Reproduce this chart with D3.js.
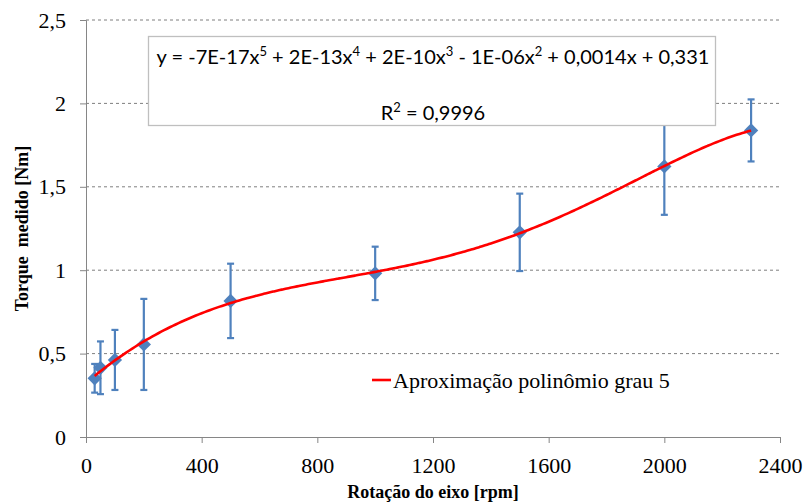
<!DOCTYPE html>
<html>
<head>
<meta charset="utf-8">
<script src="https://cdn.jsdelivr.net/npm/d3@7"></script>
<style>
  body { margin: 0; background: #fff; }
  svg { display: block; }
</style>
</head>
<body>
<svg id="chart" width="805" height="502"></svg>
<script>
// Measured torque vs. shaft speed, with standard-deviation error bars
const rotation = [30, 50, 100, 200, 500, 1000, 1500, 2000, 2300];
const torque   = [0.352, 0.415, 0.462, 0.555, 0.816, 0.981, 1.227, 1.622, 1.838];
const errorBar = [0.086, 0.158, 0.180, 0.273, 0.223, 0.160, 0.232, 0.290, 0.186];

const xTicks = [0, 400, 800, 1200, 1600, 2000, 2400];
const yTicks = [0, 0.5, 1, 1.5, 2, 2.5];

const equationText = ["y = -7E-17x", "5", " + 2E-13x", "4", " + 2E-10x", "3", " - 1E-06x", "2", " + 0,0014x + 0,331"];
const legendLabel = "Aproximação polinômio grau 5";

const SERIF = '"Liberation Serif", "Times New Roman", serif';
const SANS = 'Lato, "Open Sans", sans-serif';

const svg = d3.select("#chart");
const plotLeft = 86, plotRight = 780, plotTop = 20, plotBottom = 437;

const x = d3.scaleLinear().domain([0, 2400]).range([plotLeft, plotRight]);
const y = d3.scaleLinear().domain([0, 2.5]).range([plotBottom, plotTop]);
const fmt = v => String(v).replace(".", ",");

// Gridlines
svg.append("g")
  .selectAll("line")
  .data(yTicks.filter(d => d > 0))
  .join("line")
  .attr("x1", plotLeft).attr("x2", plotRight)
  .attr("y1", d => y(d)).attr("y2", d => y(d))
  .attr("stroke", "#7f7f7f").attr("stroke-width", 1)
  .attr("stroke-dasharray", "3,3");

// Axes
const xAxis = svg.append("g")
  .attr("transform", `translate(0,${plotBottom})`)
  .call(d3.axisBottom(x).tickValues(xTicks).tickSize(6).tickPadding(14).tickFormat(d => d));
const yAxis = svg.append("g")
  .attr("transform", `translate(${plotLeft},0)`)
  .call(d3.axisLeft(y).tickValues(yTicks).tickSize(6).tickPadding(14).tickFormat(fmt));
[xAxis, yAxis].forEach(a => {
  a.attr("font-family", null).attr("font-size", null);
  a.selectAll("path, line").attr("stroke", "#868686");
  a.selectAll("text")
    .style("font-family", SERIF)
    .style("font-size", "22px")
    .attr("fill", "#000");
});

// Degree-5 least-squares trendline fitted to the measurements
function polyFit(xs, ys, deg) {
  const s = 1000;
  const n = deg + 1;
  const A = Array.from({length: n}, () => new Array(n + 1).fill(0));
  xs.forEach((xv, k) => {
    const t = xv / s;
    for (let i = 0; i < n; i++) {
      for (let j = 0; j < n; j++) A[i][j] += Math.pow(t, i + j);
      A[i][n] += ys[k] * Math.pow(t, i);
    }
  });
  for (let c = 0; c < n; c++) {
    let p = c;
    for (let r = c + 1; r < n; r++) if (Math.abs(A[r][c]) > Math.abs(A[p][c])) p = r;
    [A[c], A[p]] = [A[p], A[c]];
    for (let r = 0; r < n; r++) {
      if (r === c) continue;
      const f = A[r][c] / A[c][c];
      for (let j = c; j <= n; j++) A[r][j] -= f * A[c][j];
    }
  }
  const coef = A.map((row, i) => row[n] / row[i]);
  return xv => coef.reduce((acc, c, i) => acc + c * Math.pow(xv / s, i), 0);
}
const trend = polyFit(rotation, torque, 5);
const xs = d3.range(rotation[0], rotation[rotation.length - 1] + 1, 10);

// Error bars
const bars = svg.append("g").attr("stroke", "#4f81bd").attr("stroke-width", 2.2);
rotation.forEach((r, i) => {
  const cx = x(r);
  const y1 = y(torque[i] + errorBar[i]), y2 = y(torque[i] - errorBar[i]);
  bars.append("line").attr("x1", cx).attr("x2", cx).attr("y1", y1).attr("y2", y2);
  bars.append("line").attr("x1", cx - 3.5).attr("x2", cx + 3.5).attr("y1", y1).attr("y2", y1);
  bars.append("line").attr("x1", cx - 3.5).attr("x2", cx + 3.5).attr("y1", y2).attr("y2", y2);
});

// Markers
svg.append("g")
  .selectAll("path")
  .data(rotation.map((r, i) => [r, torque[i]]))
  .join("path")
  .attr("d", d3.symbol(d3.symbolDiamond2, 130))
  .attr("transform", d => `translate(${x(d[0])},${y(d[1])})`)
  .attr("fill", "#4f81bd");

// Trendline
svg.append("path")
  .datum(xs)
  .attr("d", d3.line().x(d => x(d)).y(d => y(trend(d))).curve(d3.curveMonotoneX))
  .attr("fill", "none")
  .attr("stroke", "#ff0000")
  .attr("stroke-width", 2.6);

// Equation box
svg.append("rect")
  .attr("x", 148.5).attr("y", 36.5).attr("width", 567).attr("height", 89)
  .attr("fill", "#fff").attr("stroke", "#bfbfbf").attr("stroke-width", 1.3);
const eq = svg.append("text")
  .style("font-family", SANS)
  .attr("x", 433).attr("y", 64)
  .attr("text-anchor", "middle")
  .attr("font-size", 20).attr("fill", "#000");
equationText.forEach((t, i) => {
  const sp = eq.append("tspan").text(t);
  if (i % 2 === 1) sp.attr("font-size", 13).attr("dy", -8);
  else if (i > 0) sp.attr("dy", 8);
});
const r2 = svg.append("text")
  .style("font-family", SANS)
  .attr("x", 433).attr("y", 120)
  .attr("text-anchor", "middle")
  .attr("font-size", 20).attr("fill", "#000");
r2.append("tspan").text("R");
r2.append("tspan").text("2").attr("font-size", 13).attr("dy", -8);
r2.append("tspan").text(" = 0,9996").attr("dy", 8);

// Legend
svg.append("line")
  .attr("x1", 372).attr("x2", 391).attr("y1", 380).attr("y2", 380)
  .attr("stroke", "#ff0000").attr("stroke-width", 2.6);
svg.append("text")
  .style("font-family", SERIF)
  .style("font-size", "22px")
  .attr("x", 393).attr("y", 388)
  .attr("fill", "#000")
  .text(legendLabel);

// Axis titles
svg.append("text")
  .style("font-family", SERIF)
  .attr("x", (plotLeft + plotRight) / 2).attr("y", 498)
  .attr("text-anchor", "middle")
  .attr("font-weight", "bold").attr("font-size", 18)
  .text("Rotação do eixo [rpm]");
svg.append("text")
  .style("font-family", SERIF)
  .attr("transform", `translate(28,${(plotTop + plotBottom) / 2}) rotate(-90)`)
  .attr("text-anchor", "middle")
  .attr("font-weight", "bold").attr("font-size", 18)
  .style("white-space", "pre")
  .text("Torque  medido [Nm]");
</script>
</body>
</html>
